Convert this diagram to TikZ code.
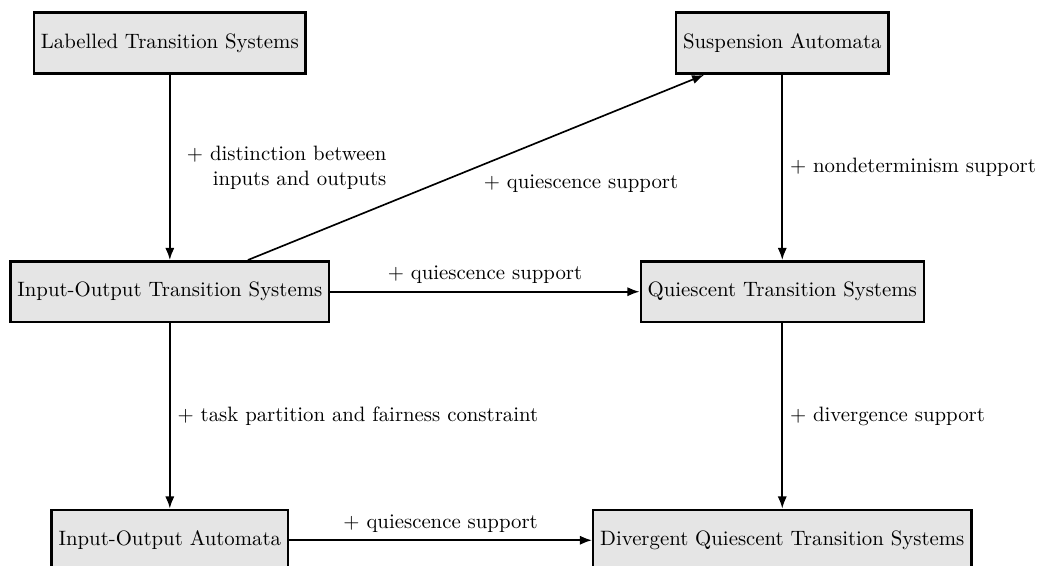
\documentclass[tikz,border=0pt]{standalone}
\usepackage{amsmath,amssymb,xcolor,tikz}
\usetikzlibrary{positioning,arrows.meta}

\begin{document}
\begin{tikzpicture}[node distance={42mm}, thick, >={Latex[length=5.8pt,width=4.4pt]}, model/.style = {draw, very thick, fill=gray!20, minimum height=10.3mm}]
    \useasboundingbox (-2.87,-8.82) rectangle (14.79,0.73);
    \node[model] (LTS) {Labelled Transition Systems};
    \node[model] (IOTS) [below of=LTS] {Input-Output Transition Systems};
    \node[model] (IOA) [below of=IOTS] {Input-Output Automata};
    \node[model] (QTS) [right of=IOTS, node distance=103.5mm] {Quiescent Transition Systems};
    \node[model] (SA) [above of=QTS] {Suspension Automata};
    \node[model] (DQTS) [below of=QTS] {Divergent Quiescent Transition Systems};
    \draw[->] (LTS)--(IOTS) node [midway,right,align=right,xshift=4.5pt] {$+$ distinction between\\inputs and outputs};
    \draw[->] (IOTS)--(SA) node [midway,below right] {$+$ quiescence support};
    \draw[->] (IOTS)--(QTS) node [midway,above] {$+$ quiescence support};
    \draw[->] (SA)--(QTS) node [midway,right] {$+$ nondeterminism support};
    \draw[->] (IOTS)--(IOA) node [midway,right] {$+$ task partition and fairness constraint};
    \draw[->] (QTS)--(DQTS) node [midway,right] {$+$ divergence support};
    \draw[->] (IOA)--(DQTS) node [midway,above] {$+$ quiescence support};
\end{tikzpicture}
\end{document}
